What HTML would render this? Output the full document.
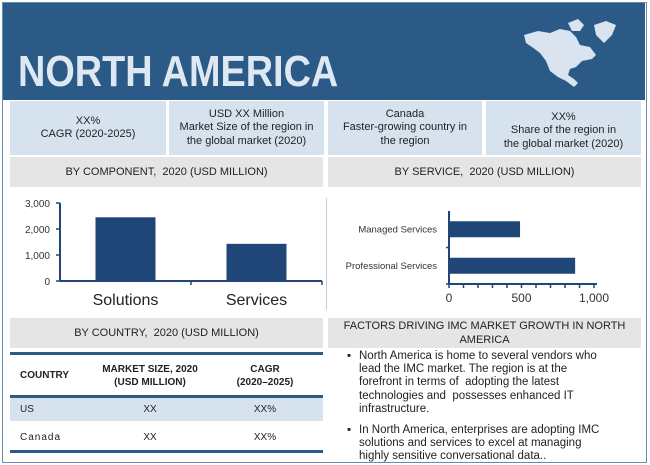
<!DOCTYPE html>
<html><head><meta charset="utf-8"><style>
body{margin:0;background:#fff;font-family:"Liberation Sans",sans-serif;}
#root{position:relative;width:650px;height:465px;overflow:hidden;background:#fff}
.abs{position:absolute}
.info{position:absolute;top:101px;height:54px;background:#d6e3ef;color:#222;font-size:11px;line-height:13.5px;text-align:center;display:flex;align-items:center;justify-content:center;}
.gray{position:absolute;background:#e5e5e5;color:#222;font-size:11px;text-align:center;display:flex;align-items:center;justify-content:center;}
.bul{position:absolute;left:347px;font-size:11.5px;line-height:13.2px;color:#222;white-space:nowrap}
.bul span{position:absolute;left:0;top:0}
.bul div{padding-left:12px}
svg text{font-family:"Liberation Sans",sans-serif}
</style></head><body>
<div id="root">
<div class="abs" style="left:2px;top:2px;width:643px;height:459px;border:1px solid #6a8bb0"></div>
<div class="abs" style="left:3px;top:3px;width:642px;height:97px;background:#2b5a87"></div>
<div class="abs" style="left:18px;top:48px;font-size:44px;line-height:48px;font-weight:bold;color:#dde8f3;transform:scaleX(0.86);transform-origin:left">NORTH AMERICA</div>
<svg class="abs" style="left:520px;top:15px" width="115" height="75" viewBox="0 0 115 75">
<path fill="#d9e4f0" d="M4,20 L18,16 L30,18 L40,14 L50,16 L56,22 L60,30 L70,32 L76,40 L72,44 L62,46 L56,52 L50,54 L48,60 L54,64 L58,68 L54,72 L46,66 L38,62 L30,56 L26,46 L20,38 L12,32 L6,28 Z"/>
<path fill="#d9e4f0" d="M48,8 L58,4 L64,10 L60,16 L52,16 Z"/>
<path fill="#d9e4f0" d="M74,10 L86,6 L96,10 L92,20 L84,28 L76,20 Z"/>
</svg>
<div class="info" style="left:10px;width:156px">XX%<br>CAGR (2020-2025)</div>
<div class="info" style="left:169px;width:155px">USD XX Million<br>Market Size of the region in<br>the global market (2020)</div>
<div class="info" style="left:328px;width:154px">Canada<br>Faster-growing country in<br>the region</div>
<div class="info" style="left:486px;width:155px;padding-top:6px;box-sizing:border-box">XX%<br>Share of the region in<br>the global market (2020)</div>
<div class="gray" style="left:10px;top:157px;width:313px;height:30px">BY COMPONENT,&nbsp; 2020 (USD MILLION)</div>
<div class="gray" style="left:328px;top:157px;width:313px;height:30px">BY SERVICE,&nbsp; 2020 (USD MILLION)</div>
<div class="abs" style="left:326px;top:198px;width:1px;height:112px;background:#ccc"></div>
<svg class="abs" id="comp" style="left:0;top:190px" width="326" height="126"></svg>
<svg class="abs" id="serv" style="left:326px;top:190px" width="324" height="126"></svg>
<div class="gray" style="left:10px;top:318px;width:313px;height:30px">BY COUNTRY,&nbsp; 2020 (USD MILLION)</div>
<div class="gray" style="left:328px;top:318px;width:313px;height:30px;line-height:14px">FACTORS DRIVING IMC MARKET GROWTH IN NORTH<br>AMERICA</div>
<div class="abs" style="left:10px;top:352px;width:313px;height:3px;background:#2b5a87"></div>
<div class="abs" style="left:20px;top:370px;font-size:10px;font-weight:bold;color:#222">COUNTRY</div>
<div class="abs" style="left:90px;top:363px;width:120px;text-align:center;font-size:10px;font-weight:bold;color:#222;line-height:13px">MARKET SIZE, 2020<br>(USD MILLION)</div>
<div class="abs" style="left:210px;top:363px;width:110px;text-align:center;font-size:10px;font-weight:bold;color:#222;line-height:13px">CAGR<br>(2020–2025)</div>
<div class="abs" style="left:10px;top:395px;width:313px;height:3px;background:#2b5a87"></div>
<div class="abs" style="left:10px;top:398px;width:313px;height:23px;background:#d6e3ef"></div>
<div class="abs" style="left:20px;top:404px;font-size:10px;color:#222">US</div>
<div class="abs" style="left:90px;top:404px;width:120px;text-align:center;font-size:10px;color:#222">XX</div>
<div class="abs" style="left:210px;top:404px;width:110px;text-align:center;font-size:10px;color:#222">XX%</div>
<div class="abs" style="left:20px;top:432px;font-size:10px;color:#222;letter-spacing:1px">Canada</div>
<div class="abs" style="left:90px;top:432px;width:120px;text-align:center;font-size:10px;color:#222">XX</div>
<div class="abs" style="left:210px;top:432px;width:110px;text-align:center;font-size:10px;color:#222">XX%</div>
<div class="abs" style="left:10px;top:450px;width:313px;height:3px;background:#2b5a87"></div>
<div class="bul" style="top:350px"><span>▪</span><div>North America is home to several vendors who<br>lead the IMC market. The region is at the<br>forefront in terms of&nbsp; adopting the latest<br>technologies and&nbsp; possesses enhanced IT<br>infrastructure.</div></div>
<div class="bul" style="top:424px"><span>▪</span><div>In North America, enterprises are adopting IMC<br>solutions and services to excel at managing<br>highly sensitive conversational data..</div></div>
</div>
<script>
const compCats=["Solutions","Services"];
const compVals=[2450,1430];
const compTicks=[0,1000,2000,3000];
const servCats=["Managed Services","Professional Services"];
const servVals=[490,870];
const servTicks=[0,500,1000];
const NS="http://www.w3.org/2000/svg";
function el(svg,tag,attrs,text){const e=document.createElementNS(NS,tag);for(const k in attrs)e.setAttribute(k,attrs[k]);if(text!==undefined)e.textContent=text;svg.appendChild(e);return e;}
const C="#1f4677";
const cs=document.getElementById('comp');
const y0=91,yTop=13,xL=60,xR=322;
const yS=v=>y0-(v/3000)*(y0-yTop);
let a=el(cs,'line',{x1:xL,y1:yTop,x2:xL,y2:y0,stroke:C,'stroke-width':2});

a=el(cs,'line',{x1:xL,y1:y0,x2:xR,y2:y0,stroke:C,'stroke-width':2});

compTicks.forEach(t=>{const l=el(cs,'text',{x:xL-10,y:yS(t)+4,'text-anchor':'end','font-size':10,fill:'#333'},t.toLocaleString('en-US'));

el(cs,'line',{x1:xL-4,y1:yS(t),x2:xL,y2:yS(t),stroke:C,'stroke-width':1.5});});
const bw=(xR-xL)/compCats.length;
compCats.forEach((c,i)=>{const cx=xL+bw*i+bw/2;
const r=el(cs,'rect',{x:cx-30,y:yS(compVals[i]),width:60,height:y0-yS(compVals[i]),fill:C});

const t=el(cs,'text',{x:cx,y:y0+24,'text-anchor':'middle','font-size':16,fill:'#222'},c);

el(cs,'line',{x1:xL+bw*(i+1),y1:y0,x2:xL+bw*(i+1),y2:y0+4,stroke:C,'stroke-width':1.5});});
const ss=document.getElementById('serv');
const ax=123,sTop=21,sBot=94,xMax=271;
const xS=v=>ax+(v/1000)*(xMax-ax-3);
a=el(ss,'line',{x1:ax,y1:sTop,x2:ax,y2:sBot,stroke:C,'stroke-width':2});

a=el(ss,'line',{x1:ax,y1:sBot,x2:xMax,y2:sBot,stroke:C,'stroke-width':2});

for(let v=0;v<=1000;v+=100)el(ss,'line',{x1:xS(v),y1:sBot,x2:xS(v),y2:sBot+4,stroke:C,'stroke-width':1.5});
servTicks.forEach(t=>{const l=el(ss,'text',{x:xS(t),y:sBot+18,'text-anchor':'middle','font-size':12,fill:'#333'},t.toLocaleString('en-US'));
});
const bh=(sBot-sTop)/servCats.length;
servCats.forEach((c,i)=>{const cy=sTop+bh*i+bh/2;
const r=el(ss,'rect',{x:ax,y:cy-8,width:xS(servVals[i])-ax,height:16,fill:C});

const t=el(ss,'text',{x:ax-12,y:cy+3,'text-anchor':'end','font-size':9.5,fill:'#333'},c);

el(ss,'line',{x1:ax-3,y1:sTop+bh*(i+1),x2:ax,y2:sTop+bh*(i+1),stroke:C,'stroke-width':1.5});});
</script>
</body></html>
